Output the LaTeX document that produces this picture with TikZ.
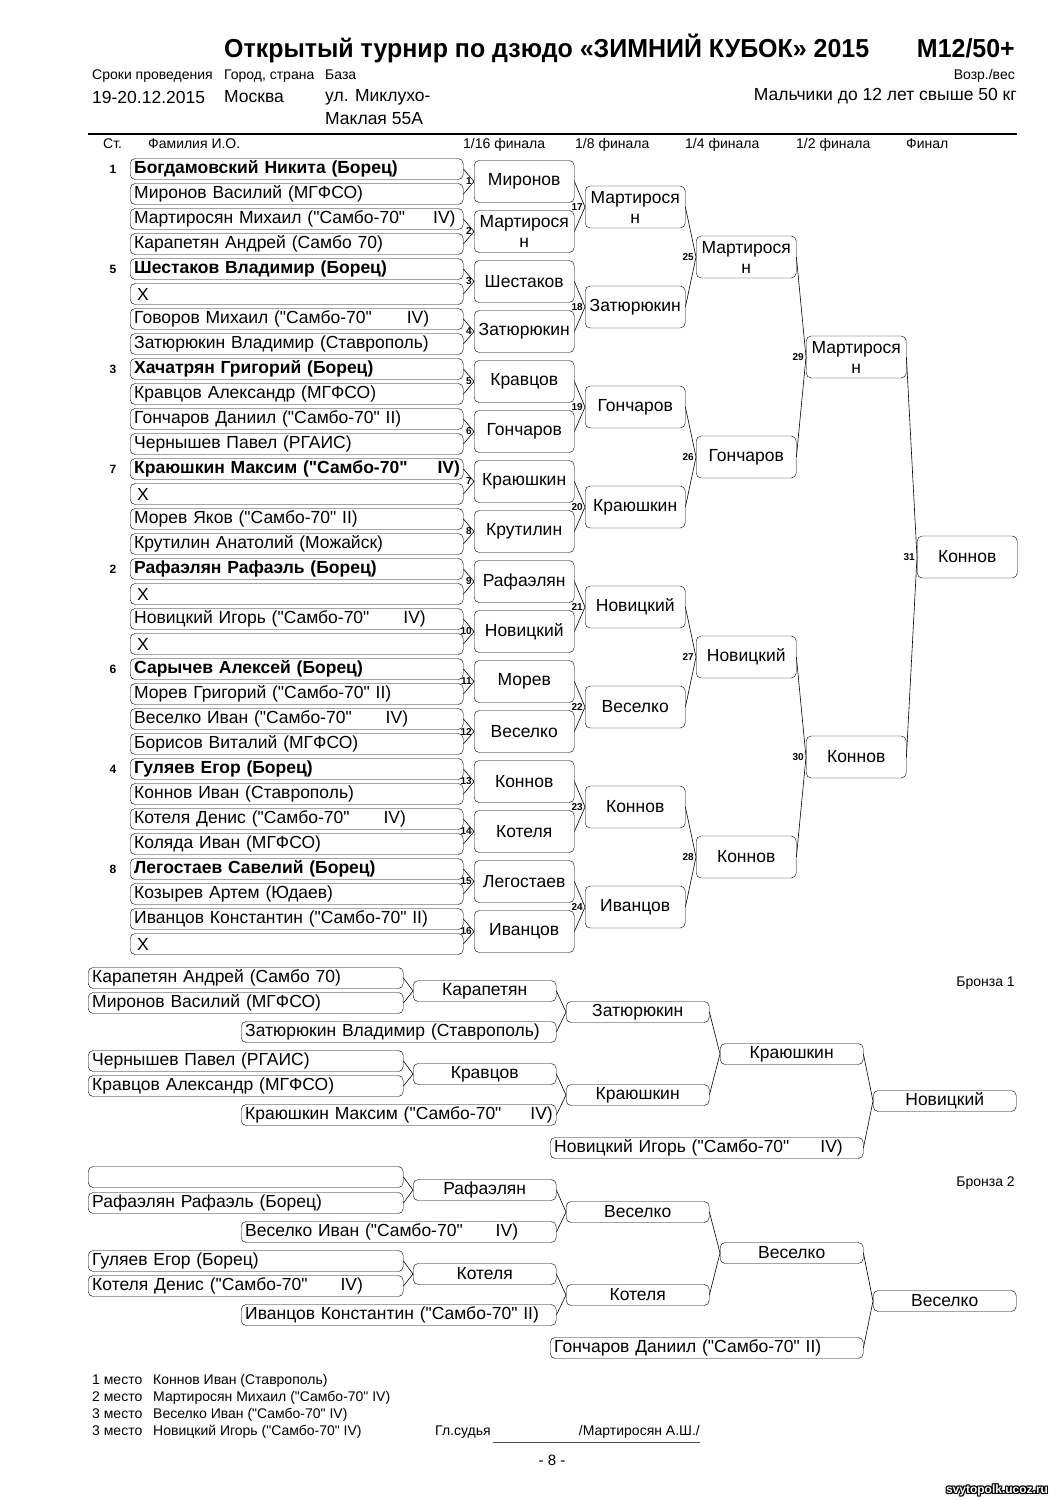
\documentclass[tikz,border=0pt]{standalone}
\usepackage{fontspec}
\setmainfont{Liberation Sans}[Ligatures=TeXOff]
\newfontfamily\narrowfont[FakeStretch=0.96]{Liberation Sans}
\usetikzlibrary{positioning}

\begin{document}
\begin{tikzpicture}[x=1pt,y=-1pt,
  font=\fontsize{17.5}{20}\selectfont,
  entry/.style={draw,rounded corners=5pt,anchor=west,minimum height=21pt,inner xsep=4pt,inner ysep=0pt,align=left},
  res/.style={draw,rounded corners=5pt,anchor=west,minimum width=100pt,minimum height=42pt,inner sep=1pt,align=center},
  bres/.style={draw,rounded corners=5pt,anchor=west,minimum width=143pt,minimum height=21pt,inner sep=0pt},
  num/.style={font=\fontsize{10}{10}\selectfont\bfseries,anchor=east,inner sep=0.5pt},
  seed/.style={font=\fontsize{12}{12}\selectfont\bfseries},
  link/.style={line width=0.6pt},
  small/.style={font=\fontsize{14}{16}\selectfont,anchor=west,inner sep=0pt,text height=10pt,text depth=3pt}]
\useasboundingbox (0,0) rectangle (1061,1500);

% header
\node[anchor=west,inner sep=0pt,font=\narrowfont\bfseries\fontsize{26}{28}\selectfont] (title) at (224,48) {Открытый турнир по дзюдо «ЗИМНИЙ КУБОК» 2015};
\node[anchor=east,inner sep=0pt,font=\narrowfont\bfseries\fontsize{26}{28}\selectfont] (cat) at (1015,48) {M12/50+};
\node[small] (h1) at (92,76) {Сроки проведения};
\node[small] (h2) at (224,76) {Город, страна};
\node[small] (h3) at (325,76) {База};
\node[small,anchor=east] (h4) at (1015,76) {Возр./вес};
\node[anchor=west,inner sep=0pt] (date) at (92,97) {19-20.12.2015};
\node[anchor=west,inner sep=0pt] (city) at (224,97) {Москва};
\node[anchor=west,inner sep=0pt] (base1) at (325,97) {ул. Миклухо-};
\node[anchor=west,inner sep=0pt] (base2) at (325,119) {Маклая 55А};
\node[anchor=east,inner sep=0pt] (age) at (1017,96) {Мальчики до 12 лет свыше 50 кг};
\draw[line width=1.5pt] (88,134) -- (1017,134);
\node[small] (c1) at (103,145) {Ст.};
\node[small] (c2) at (148,145) {Фамилия И.О.};
\node[small] (c3) at (463,145) {1/16 финала};
\node[small] (c4) at (575,145) {1/8 финала};
\node[small] (c5) at (685,145) {1/4 финала};
\node[small] (c6) at (796,145) {1/2 финала};
\node[small] (c7) at (906,145) {Финал};

% entries
\foreach \i/\t in {1/{\textbf{Богдамовский Никита (Борец)}},2/{Миронов Василий (МГФСО)},
  3/{\mbox{Мартиросян Михаил ("Самбо-70"\hspace{28pt}IV)}},4/{Карапетян Андрей (Самбо 70)},
  5/{\textbf{Шестаков Владимир (Борец)}},6/{\,X},
  7/{Говоров Михаил ("Самбо-70"\hspace{35pt}IV)},8/{Затюрюкин Владимир (Ставрополь)},
  9/{\textbf{Хачатрян Григорий (Борец)}},10/{Кравцов Александр (МГФСО)},
  11/{Гончаров Даниил ("Самбо-70" II)},12/{Чернышев Павел (РГАИС)},
  13/{\mbox{\textbf{Краюшкин Максим ("Самбо-70"\hspace{30pt}IV)}}},14/{\,X},
  15/{Морев Яков ("Самбо-70" II)},16/{Крутилин Анатолий (Можайск)},
  17/{\textbf{Рафаэлян Рафаэль (Борец)}},18/{\,X},
  19/{Новицкий Игорь ("Самбо-70"\hspace{34pt}IV)},20/{\,X},
  21/{\textbf{Сарычев Алексей (Борец)}},22/{Морев Григорий ("Самбо-70" II)},
  23/{Веселко Иван ("Самбо-70"\hspace{34pt}IV)},24/{Борисов Виталий (МГФСО)},
  25/{\textbf{Гуляев Егор (Борец)}},26/{Коннов Иван (Ставрополь)},
  27/{Котеля Денис ("Самбо-70"\hspace{34pt}IV)},28/{Коляда Иван (МГФСО)},
  29/{\textbf{Легостаев Савелий (Борец)}},30/{Козырев Артем (Юдаев)},
  31/{Иванцов Константин ("Самбо-70" II)},32/{\,X}}
  \node[entry,text width=325pt] (e\i) at (130,{169+25*(\i-1)}) {\t};
\foreach \i/\s in {1/1,5/5,9/3,13/7,17/2,21/6,25/4,29/8}
  \node[seed] (s\i) at (113,{169+25*(\i-1)}) {\s};

% 1/16
\foreach \k/\t in {1/Миронов,2/{Мартирося\\н},3/Шестаков,4/Затюрюкин,5/Кравцов,6/Гончаров,
  7/Краюшкин,8/Крутилин,9/Рафаэлян,10/Новицкий,11/Морев,12/Веселко,13/Коннов,14/Котеля,
  15/Легостаев,16/Иванцов}
  \node[res] (m\k) at (474,{181.5+50*(\k-1)}) {\t};
% 1/8
\foreach \k/\t in {17/{Мартирося\\н},18/Затюрюкин,19/Гончаров,20/Краюшкин,21/Новицкий,
  22/Веселко,23/Коннов,24/Иванцов}
  \node[res] (m\k) at (585,{207+100*(\k-17)}) {\t};
% 1/4
\foreach \k/\t in {25/{Мартирося\\н},26/Гончаров,27/Новицкий,28/Коннов}
  \node[res] (m\k) at (696,{257+200*(\k-25)}) {\t};
% 1/2 and final
\node[res] (m29) at (806,357) {Мартирося\\н};
\node[res] (m30) at (806,757) {Коннов};
\node[res] (m31) at (917,557) {Коннов};

\foreach \k in {1,...,16}{
  \pgfmathtruncatemacro\a{2*\k-1}
  \pgfmathtruncatemacro\b{2*\k}
  \draw[link] (e\a.east) -- (m\k.west) (e\b.east) -- (m\k.west);
}
\foreach \k in {17,...,31}{
  \pgfmathtruncatemacro\a{2*\k-33}
  \pgfmathtruncatemacro\b{2*\k-32}
  \draw[link] (m\a.east) -- (m\k.west) (m\b.east) -- (m\k.west);
}
\foreach \k in {1,...,31}
  \node[num] (n\k) at ([xshift=-1.5pt]m\k.west) {\k};

% bronze 1
\node[small,anchor=east] (br1) at (1015,983) {Бронза 1};
\node[entry,text width=307pt] (a1) at (88,978) {Карапетян Андрей (Самбо 70)};
\node[entry,text width=307pt] (a2) at (88,1003) {Миронов Василий (МГФСО)};
\node[bres] (a3) at (413,991) {Карапетян};
\node[entry,text width=307pt] (a4) at (241,1032) {Затюрюкин Владимир (Ставрополь)};
\node[bres] (a5) at (566,1012) {Затюрюкин};
\node[entry,text width=307pt] (a6) at (88,1061) {Чернышев Павел (РГАИС)};
\node[entry,text width=307pt] (a7) at (88,1086) {Кравцов Александр (МГФСО)};
\node[bres] (a8) at (413,1074) {Кравцов};
\node[entry,text width=307pt] (a9) at (241,1115) {\mbox{Краюшкин Максим ("Самбо-70"\hspace{29pt}IV)}};
\node[bres] (a10) at (566,1095) {Краюшкин};
\node[bres] (a11) at (720,1054) {Краюшкин};
\node[entry,text width=305pt] (a12) at (550,1148) {Новицкий Игорь ("Самбо-70"\hspace{31pt}IV)};
\node[bres] (a13) at (873,1101) {Новицкий};
\draw[link] (a1.east) -- (a3.west) (a2.east) -- (a3.west);
\draw[link] (a3.east) -- (a5.west) (a4.east) -- (a5.west);
\draw[link] (a6.east) -- (a8.west) (a7.east) -- (a8.west);
\draw[link] (a8.east) -- (a10.west) (a9.east) -- (a10.west);
\draw[link] (a5.east) -- (a11.west) (a10.east) -- (a11.west);
\draw[link] (a11.east) -- (a13.west) (a12.east) -- (a13.west);

% bronze 2
\node[small,anchor=east] (br2) at (1015,1183) {Бронза 2};
\node[entry,text width=307pt] (b1) at (88,1177) {};
\node[entry,text width=307pt] (b2) at (88,1203) {Рафаэлян Рафаэль (Борец)};
\node[bres] (b3) at (413,1190) {Рафаэлян};
\node[entry,text width=307pt] (b4) at (241,1232) {Веселко Иван ("Самбо-70"\hspace{33pt}IV)};
\node[bres] (b5) at (566,1212) {Веселко};
\node[entry,text width=307pt] (b6) at (88,1261) {Гуляев Егор (Борец)};
\node[entry,text width=307pt] (b7) at (88,1286) {Котеля Денис ("Самбо-70"\hspace{33pt}IV)};
\node[bres] (b8) at (413,1274) {Котеля};
\node[entry,text width=307pt] (b9) at (241,1315) {Иванцов Константин ("Самбо-70" II)};
\node[bres] (b10) at (566,1295) {Котеля};
\node[bres] (b11) at (720,1253) {Веселко};
\node[entry,text width=305pt] (b12) at (550,1348) {Гончаров Даниил ("Самбо-70" II)};
\node[bres] (b13) at (873,1301) {Веселко};
\draw[link] (b1.east) -- (b3.west) (b2.east) -- (b3.west);
\draw[link] (b3.east) -- (b5.west) (b4.east) -- (b5.west);
\draw[link] (b6.east) -- (b8.west) (b7.east) -- (b8.west);
\draw[link] (b8.east) -- (b10.west) (b9.east) -- (b10.west);
\draw[link] (b5.east) -- (b11.west) (b10.east) -- (b11.west);
\draw[link] (b11.east) -- (b13.west) (b12.east) -- (b13.west);

% footer
\foreach \j/\p/\w in {0/1/{Коннов Иван (Ставрополь)},1/2/{Мартиросян Михаил ("Самбо-70" IV)},
  2/3/{Веселко Иван ("Самбо-70" IV)},3/3/{Новицкий Игорь ("Самбо-70" IV)}}{
  \node[small] (p\j) at (92,{1381+17*\j}) {\p{} место};
  \node[small] (w\j) at (153,{1381+17*\j}) {\w};
}
\node[small] (judge) at (435,1432) {Гл.судья};
\node[small,anchor=east] (jname) at (700,1432) {/Мартиросян А.Ш./};
\draw[line width=0.6pt,black!70] (493,1442) -- (700,1442);
\node[inner sep=0pt,font=\fontsize{15}{17}\selectfont] (page) at (552,1460) {- 8 -};
\foreach \dx/\dy in {-1/-1,-1/0,-1/1,0/-1,0/1,1/-1,1/0,1/1}
  \node[inner sep=0pt,font=\bfseries\fontsize{12}{12}\selectfont] at ([shift={(\dx pt,\dy pt)}]997,1490) {svytopolk.ucoz.ru};
\node[inner sep=0pt,text=white,font=\bfseries\fontsize{12}{12}\selectfont] (wm) at (997,1490) {svytopolk.ucoz.ru};
\end{tikzpicture}
\end{document}
